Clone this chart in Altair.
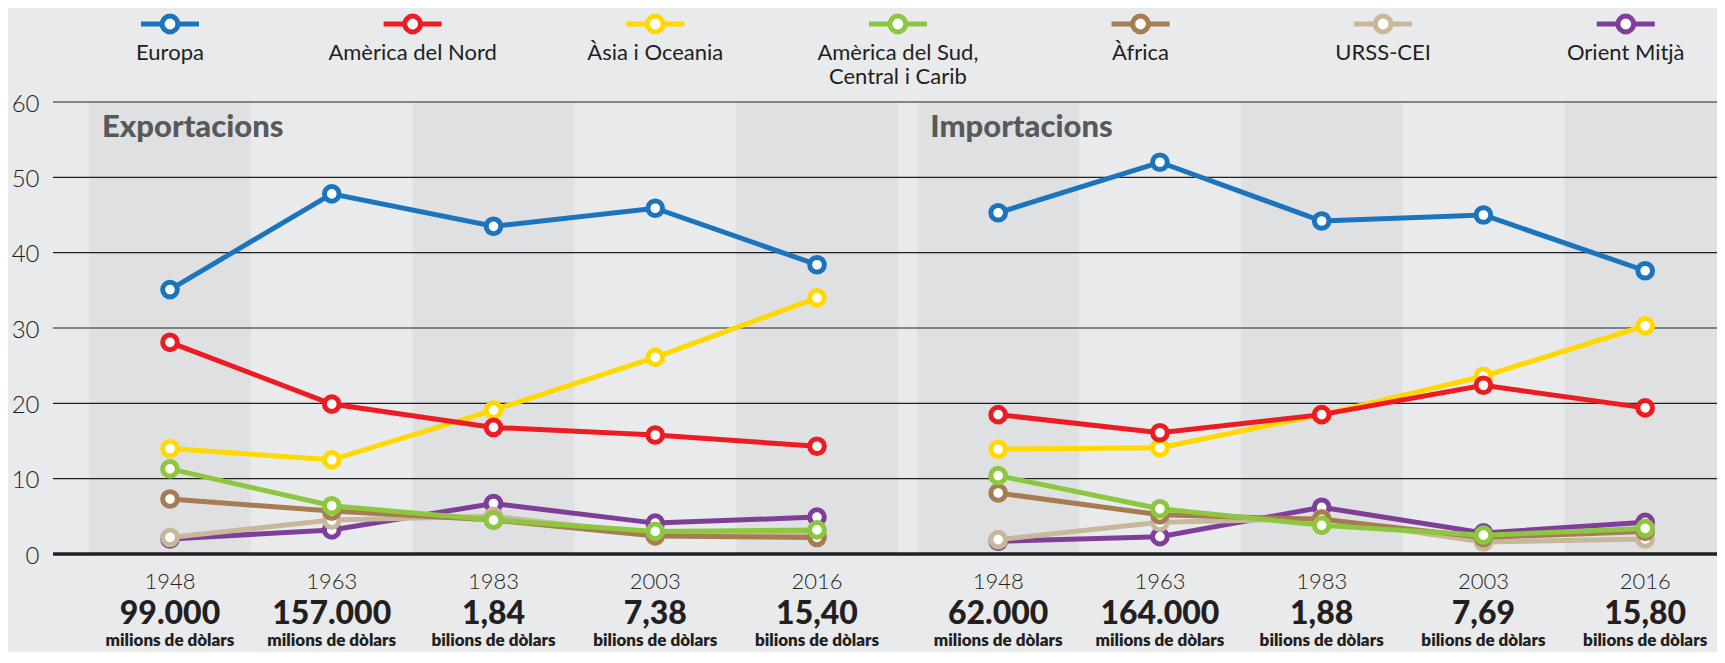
import altair as alt
import pandas as pd

# ---------------- data ----------------
years = ["1948", "1963", "1983", "2003", "2016"]
series_keys = ["Europa", "Amèrica del Nord", "Àsia i Oceania", "Amèrica del Sud",
               "Àfrica", "URSS-CEI", "Orient Mitjà"]
series_labels = ["Europa", "Amèrica del Nord", "Àsia i Oceania",
                 "Amèrica del Sud,\nCentral i Carib", "Àfrica", "URSS-CEI", "Orient Mitjà"]
series_colors = ["#1c75bc", "#ed1c24", "#ffd800", "#8dc63f", "#a67c52", "#c8b89b", "#7f3f98"]

exp_europa = [35.1, 47.8, 43.5, 45.9, 38.4]
exp_nord = [28.1, 19.9, 16.8, 15.8, 14.3]
exp_asia = [14.0, 12.5, 19.1, 26.1, 34.0]
exp_sud = [11.3, 6.4, 4.5, 3.0, 3.2]
exp_africa = [7.3, 5.7, 4.5, 2.4, 2.2]
exp_urss = [2.2, 4.5, 5.0, 2.6, 2.6]
exp_orient = [2.0, 3.2, 6.7, 4.1, 4.9]

imp_europa = [45.3, 52.0, 44.2, 45.0, 37.6]
imp_nord = [18.5, 16.1, 18.5, 22.4, 19.4]
imp_asia = [13.9, 14.1, 18.5, 23.6, 30.3]
imp_sud = [10.4, 6.0, 3.8, 2.5, 3.4]
imp_africa = [8.1, 5.2, 4.6, 2.2, 3.0]
imp_urss = [1.9, 4.2, 4.7, 1.6, 2.0]
imp_orient = [1.7, 2.3, 6.2, 2.8, 4.2]

panels = ["Exportacions", "Importacions"]
exp_totals = ["99.000", "157.000", "1,84", "7,38", "15,40"]
imp_totals = ["62.000", "164.000", "1,88", "7,69", "15,80"]
units = ["milions de dòlars", "milions de dòlars", "bilions de dòlars",
         "bilions de dòlars", "bilions de dòlars"]
grid_values = [10, 20, 30, 40, 50, 60]
axis_values = [0, 10, 20, 30, 40, 50, 60]

# ---------------- layout constants ----------------
panel_shift = [0.0, 5.12]          # slot offset of each panel on the shared x scale
legend_step = 1.5                   # legend spacing in slots
title_shift = -0.42
X_DOMAIN = [-0.7233, 9.564]
FONT = "Lato"
INK = "#231f20"

exp_values = [exp_europa, exp_nord, exp_asia, exp_sud, exp_africa, exp_urss, exp_orient]
imp_values = [imp_europa, imp_nord, imp_asia, imp_sud, imp_africa, imp_urss, imp_orient]

rows = []
for p, pname in enumerate(panels):
    vals = exp_values if p == 0 else imp_values
    for s, key in enumerate(series_keys):
        for i, yr in enumerate(years):
            rows.append(dict(panel=pname, series=key, year=yr,
                             pos=panel_shift[p] + i, value=vals[s][i]))
df = pd.DataFrame(rows)

band_rows = []
bottom_rows = []
for p, pname in enumerate(panels):
    totals = exp_totals if p == 0 else imp_totals
    for i, yr in enumerate(years):
        c = panel_shift[p] + i
        if i % 2 == 0:
            band_rows.append(dict(x1=c - 0.5, x2=c + 0.5))
        bottom_rows.append(dict(pos=c, year=yr, total=totals[i], unit=units[i]))
bands = pd.DataFrame(band_rows)
bottom = pd.DataFrame(bottom_rows)

titles = pd.DataFrame({"t": panels, "tx": [s + title_shift for s in panel_shift]})
legend_df = pd.DataFrame({"key": series_keys, "label": series_labels,
                          "lpos": [i * legend_step for i in range(len(series_keys))]})

# ---------------- scales ----------------
xs = alt.Scale(domain=X_DOMAIN, nice=False, zero=False)
ys = alt.Scale(domain=[0, 60], nice=False)
cs = alt.Scale(domain=series_keys, range=series_colors)
y_axis = alt.Axis(values=axis_values, grid=False, domain=False, ticks=False,
                  labelFontSize=24, labelFont=FONT, labelFontWeight=300,
                  labelColor=INK, labelPadding=14, labelOffset=2, title=None)

band_layer = alt.Chart(bands).mark_rect(color="#dfe0e2", clip=True).encode(
    x=alt.X("x1:Q", scale=xs, axis=None), x2="x2:Q",
    y=alt.Y(datum=60, type="quantitative", scale=ys, axis=y_axis),
    y2=alt.datum(0),
)

grid_layer = alt.Chart(pd.DataFrame({"v": grid_values})).mark_rule(
    color=INK, strokeWidth=1.2).encode(y=alt.Y("v:Q", scale=ys, axis=y_axis))

zero_layer = alt.Chart(pd.DataFrame({"v": [0]})).mark_rule(
    color=INK, strokeWidth=3.4).encode(y=alt.Y("v:Q", scale=ys, axis=y_axis))

draw_order = ["Orient Mitjà", "URSS-CEI", "Àfrica", "Àsia i Oceania",
              "Amèrica del Nord", "Amèrica del Sud", "Europa"]
series_layers = []
for key in draw_order:
    col = series_colors[series_keys.index(key)]
    sub = df[df.series == key]
    base = alt.Chart(sub).encode(
        x=alt.X("pos:Q", scale=xs, axis=None),
        y=alt.Y("value:Q", scale=ys, axis=y_axis),
        detail="panel:N",
    )
    series_layers.append(base.mark_line(color=col, strokeWidth=5))
    series_layers.append(base.mark_circle(fill="white", stroke=col, strokeWidth=5,
                                          size=215, opacity=1))

leg_x = alt.X("lpos:Q", scale=xs, axis=None)
legend_line = alt.Chart(legend_df).mark_point(
    shape="M-1,0L1,0", filled=False, strokeWidth=5, size=3364, opacity=1).encode(
    x=leg_x, y=alt.value(-78), color=alt.Color("key:N", scale=cs, legend=None))
legend_dot = alt.Chart(legend_df).mark_circle(
    fill="white", strokeWidth=5, size=250, opacity=1).encode(
    x=leg_x, y=alt.value(-78), stroke=alt.Stroke("key:N", scale=cs, legend=None))
legend_text = alt.Chart(legend_df).mark_text(
    font=FONT, fontSize=22, fontWeight=400, color=INK, align="center",
    baseline="alphabetic", lineBreak="\n", lineHeight=24).encode(
    x=leg_x, y=alt.value(-42), text="label:N")

title_layer = alt.Chart(titles).mark_text(
    font=FONT, fontSize=31, fontWeight=900, color="#58595b", align="left",
    baseline="alphabetic").encode(
    x=alt.X("tx:Q", scale=xs, axis=None), y=alt.value(35), text="t:N")

bx = alt.X("pos:Q", scale=xs, axis=None)
year_text = alt.Chart(bottom).mark_text(
    font=FONT, fontSize=22, fontWeight=300, color=INK, align="center",
    baseline="alphabetic").encode(x=bx, y=alt.value(487), text="year:N")
total_text = alt.Chart(bottom).mark_text(
    font=FONT, fontSize=32, fontWeight=900, color=INK, align="center",
    baseline="alphabetic").encode(x=bx, y=alt.value(522), text="total:N")
unit_text = alt.Chart(bottom).mark_text(
    font=FONT, fontSize=17, fontWeight=800, color=INK, align="center",
    baseline="alphabetic").encode(x=bx, y=alt.value(544), text="unit:N")

chart = alt.layer(
    band_layer, grid_layer, zero_layer, *series_layers,
    legend_line, legend_dot, legend_text, title_layer,
    year_text, total_text, unit_text,
).properties(
    width=1664, height=452, background="#e9eaec",
    padding={"left": 45, "top": 94, "right": 0, "bottom": 98},
    autosize=alt.AutoSizeParams(type="none"),
).configure_view(stroke=None)

chart.save("out.html", embed_options={"renderer": "svg", "actions": False})
